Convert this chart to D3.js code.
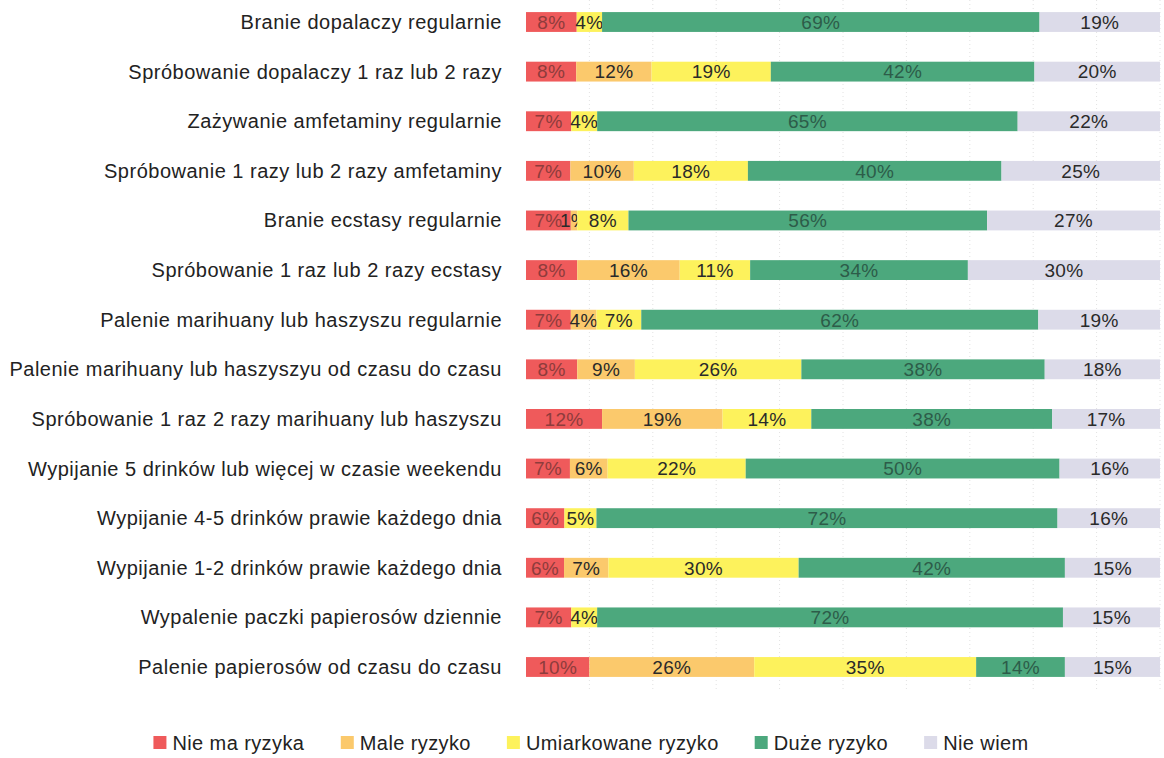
<!DOCTYPE html>
<html>
<head>
<meta charset="utf-8">
<script src="https://cdn.jsdelivr.net/npm/d3@7"></script>
<style>
  body { margin: 0; background: #fff; }
  text { font-family: "Liberation Sans", Arial, sans-serif; }
</style>
</head>
<body>
<div id="chart"></div>
<script>
let width  = 1164,
    height = 758;

let categories = [
  "Branie dopalaczy regularnie",
  "Spróbowanie dopalaczy 1 raz lub 2 razy",
  "Zażywanie amfetaminy regularnie",
  "Spróbowanie 1 razy lub 2 razy amfetaminy",
  "Branie ecstasy regularnie",
  "Spróbowanie 1 raz lub 2 razy ecstasy",
  "Palenie marihuany lub haszyszu regularnie",
  "Palenie marihuany lub haszyszyu od czasu do czasu",
  "Spróbowanie 1 raz 2 razy marihuany lub haszyszu",
  "Wypijanie 5 drinków lub więcej w czasie weekendu",
  "Wypijanie 4-5 drinków prawie każdego dnia",
  "Wypijanie 1-2 drinków prawie każdego dnia",
  "Wypalenie paczki papierosów dziennie",
  "Palenie papierosów od czasu do czasu"
];

let seriesNames = ["Nie ma ryzyka", "Male ryzyko", "Umiarkowane ryzyko", "Duże ryzyko", "Nie wiem"];

let nieMaRyzyka  = [8, 8, 7, 7, 7, 8, 7, 8, 12, 7, 6, 6, 7, 10];
let maleRyzyko   = [0, 12, 0, 10, 1, 16, 4, 9, 19, 6, 0, 7, 0, 26];
let umiarkowane  = [4, 19, 4, 18, 8, 11, 7, 26, 14, 22, 5, 30, 4, 35];
let duzeRyzyko   = [69, 42, 65, 40, 56, 34, 62, 38, 38, 50, 72, 42, 72, 14];
let nieWiem      = [19, 20, 22, 25, 27, 30, 19, 18, 17, 16, 16, 15, 15, 15];

let colorPalette = ["#ef5a5b", "#fbc96c", "#fdf25c", "#4ca87d", "#dcdbe9"];
let labelColors  = ["#8e3c3c", "#2a2a2a", "#2a2a2a", "#2d5c49", "#2a2a2a"];

let seriesValues = [nieMaRyzyka, maleRyzyko, umiarkowane, duzeRyzyko, nieWiem];

let table = categories.map(function(c, i) {
  let row = {category: c};
  seriesNames.forEach(function(s, j) { row[s] = seriesValues[j][i]; });
  return row;
});

let stacked =
  d3.stack()
    .keys(seriesNames)
    .offset(d3.stackOffsetExpand)(table);

let x =
  d3.scaleLinear()
    .domain([0, 1])
    .range([526, 1160]);

let y =
  d3.scaleBand()
    .domain(categories)
    .range([-2.8, 691.8])
    .paddingInner(0.6)
    .paddingOuter(0.3);

let color =
  d3.scaleOrdinal()
    .domain(seriesNames)
    .range(colorPalette);

let svg =
  d3.select("#chart")
    .append("svg")
      .attr("width", width)
      .attr("height", height);

// faint vertical gridlines
svg.append("g")
    .selectAll("line")
    .data(d3.range(1, 11).map(function(d) { return d / 10; }))
  .enter().append("line")
    .attr("x1", function(d) { return x(d); })
    .attr("x2", function(d) { return x(d); })
    .attr("y1", 0)
    .attr("y2", 692)
    .attr("stroke", "#e2e2e2")
    .attr("stroke-dasharray", "1,3");

// category labels
svg.append("g")
    .selectAll("text")
    .data(categories)
  .enter().append("text")
    .attr("x", 502)
    .attr("y", function(d) { return y(d) + y.bandwidth() / 2; })
    .attr("dy", "0.35em")
    .attr("text-anchor", "end")
    .style("font-size", "20px")
    .style("letter-spacing", "0.5px")
    .style("fill", "#222")
    .text(function(d) { return d; });

let layer =
  svg.selectAll(".layer")
    .data(stacked)
  .enter().append("g")
    .attr("class", "layer")
    .attr("fill", function(d) { return color(d.key); });

layer.selectAll("rect")
    .data(function(d) { return d; })
  .enter().append("rect")
    .attr("x", function(d) { return x(d[0]); })
    .attr("y", function(d) { return y(d.data.category); })
    .attr("width", function(d) { return x(d[1]) - x(d[0]); })
    .attr("height", y.bandwidth());

layer.selectAll("text")
    .data(function(d, i) {
      return d.map(function(p) { return {p: p, key: d.key, idx: i}; })
              .filter(function(o) { return o.p.data[o.key] > 0; });
    })
  .enter().append("text")
    .attr("x", function(d) { return (x(d.p[0]) + x(d.p[1])) / 2; })
    .attr("y", function(d) { return y(d.p.data.category) + y.bandwidth() / 2; })
    .attr("dy", "0.36em")
    .attr("text-anchor", "middle")
    .style("font-size", "19px")
    .style("letter-spacing", "0.3px")
    .style("fill", function(d) { return labelColors[d.idx]; })
    .text(function(d) { return d.p.data[d.key] + "%"; });

// legend
let legend = svg.append("g").attr("transform", "translate(0, 743)");
let items = legend.selectAll("g")
    .data(seriesNames)
  .enter().append("g");

items.append("rect")
    .attr("y", -7)
    .attr("width", 13)
    .attr("height", 13)
    .attr("fill", function(d) { return color(d); });

items.append("text")
    .attr("x", 19)
    .attr("dy", "0.35em")
    .style("font-size", "20px")
    .style("letter-spacing", "0.4px")
    .style("fill", "#222")
    .text(function(d) { return d; });

let offsets = [], pos = 0;
items.each(function() {
  offsets.push(pos);
  pos += this.getBBox().width + 36;
});
let startX = 591 - (pos - 36) / 2;
items.attr("transform", function(d, i) { return "translate(" + (startX + offsets[i]) + ",0)"; });
</script>
</body>
</html>
